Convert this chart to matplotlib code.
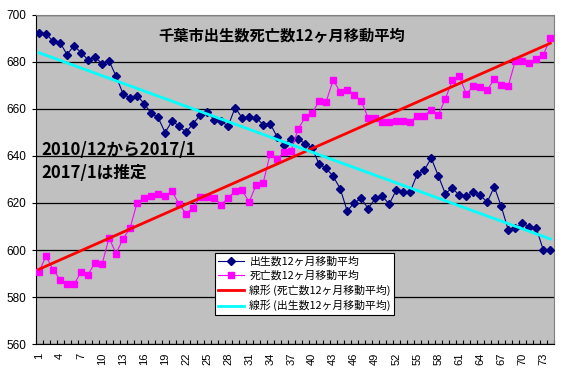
import numpy as np
import matplotlib
matplotlib.use("Agg")
import matplotlib.pyplot as plt

plt.rcParams['font.family'] = ['Noto Sans CJK JP', 'DejaVu Sans']

months = np.arange(1, 75)

births = [692.3, 691.9, 688.6, 688.1, 683.0, 686.8, 683.8, 680.8, 681.8, 679.2,
          680.4, 673.8, 666.3, 664.6, 665.6, 662.2, 658.1, 656.3, 649.9, 654.8,
          652.6, 650.0, 653.7, 657.2, 658.6, 655.4, 654.7, 652.6, 660.5, 656.1,
          656.5, 656.1, 653.3, 653.7, 648.0, 644.8, 647.3, 647.0, 645.2, 643.3,
          636.4, 634.7, 631.3, 626.1, 616.6, 620.0, 621.9, 617.6, 621.9, 622.9,
          619.5, 625.4, 624.8, 624.8, 632.2, 633.9, 639.0, 631.6, 624.0, 626.3,
          623.3, 622.9, 624.5, 623.3, 620.3, 626.9, 618.5, 608.5, 609.2, 611.4,
          609.9, 609.3, 600.0, 600.0]

deaths = [590.7, 597.5, 591.7, 587.5, 585.4, 585.4, 590.7, 589.6, 594.6, 593.9,
          605.2, 598.5, 604.8, 609.3, 620.0, 622.1, 623.0, 623.8, 622.8, 625.0,
          619.5, 615.4, 617.9, 622.7, 622.6, 622.1, 619.3, 622.1, 625.1, 625.4,
          620.4, 627.6, 628.5, 640.7, 638.6, 641.5, 642.1, 651.4, 656.3, 658.3,
          663.2, 663.0, 672.2, 667.1, 668.1, 666.0, 663.3, 656.1, 656.1, 654.4,
          654.4, 655.0, 655.0, 654.4, 657.0, 657.0, 659.5, 657.4, 664.0, 672.1,
          673.8, 666.3, 669.5, 669.1, 668.0, 672.5, 670.2, 669.7, 680.3, 680.3,
          679.4, 681.0, 682.8, 690.0]

title = '千葉市出生数死亡数12ヶ月移動平均'
note = '2010/12から2017/1\n2017/1は推定'
label_b = '出生数12ヶ月移動平均'
label_d = '死亡数12ヶ月移動平均'

# 線形近似
pb = np.polyfit(months, births, 1)
pd_ = np.polyfit(months, deaths, 1)

fig = plt.figure(figsize=(5.68, 3.70), dpi=100)
ax = fig.add_axes([0.0625, 0.0695, 0.9125, 0.8913])
ax.set_facecolor('#C0C0C0')

ax.plot(months, births, color='#000080', lw=0.8, marker='D', markersize=4.2,
        label=label_b, zorder=3)
ax.plot(months, deaths, color='#FF00FF', lw=0.8, marker='s', markersize=4.5,
        label=label_d, zorder=3)
ax.plot(months, np.polyval(pd_, months), color='#FF0000', lw=2,
        label='線形 (' + label_d + ')', zorder=4)
ax.plot(months, np.polyval(pb, months), color='#00FFFF', lw=2,
        label='線形 (' + label_b + ')', zorder=4)

ax.set_xlim(0.5, 74.5)
ax.set_ylim(560, 700)
ax.set_yticks(np.arange(560, 701, 20))
ax.yaxis.grid(True, color='black', lw=0.9)
ax.set_axisbelow(True)

ax.set_xticks(months[::3])
ax.set_xticks(np.arange(0.5, 75, 1), minor=True)
ax.tick_params(axis='x', which='major', length=0, pad=6, labelsize=8, rotation=90)
ax.tick_params(axis='x', which='minor', direction='in', length=3, width=0.8)
ax.tick_params(axis='y', direction='out', length=3, width=0.8, labelsize=8.5)
for t in ax.get_xticklabels() + ax.get_yticklabels():
    t.set_fontfamily('Liberation Sans')

for s in ['top', 'right']:
    ax.spines[s].set_color('#808080')
for s in ['left', 'bottom']:
    ax.spines[s].set_color('black')

ax.text(0.475, 0.935, title, transform=ax.transAxes, ha='center', va='center',
        fontsize=11, fontweight='bold')
ax.text(0.011, 0.615, note, transform=ax.transAxes, ha='left', va='top',
        fontsize=12, fontweight='bold', linespacing=1.3)

leg = ax.legend(loc='upper left', bbox_to_anchor=(0.346, 0.277), borderaxespad=0,
                fancybox=False, framealpha=1, edgecolor='black', fontsize=7.8,
                handlelength=2.4, handletextpad=0.5, labelspacing=0.35,
                borderpad=0.3)
leg.get_frame().set_linewidth(0.8)

fig.savefig('out.png', dpi=100)
